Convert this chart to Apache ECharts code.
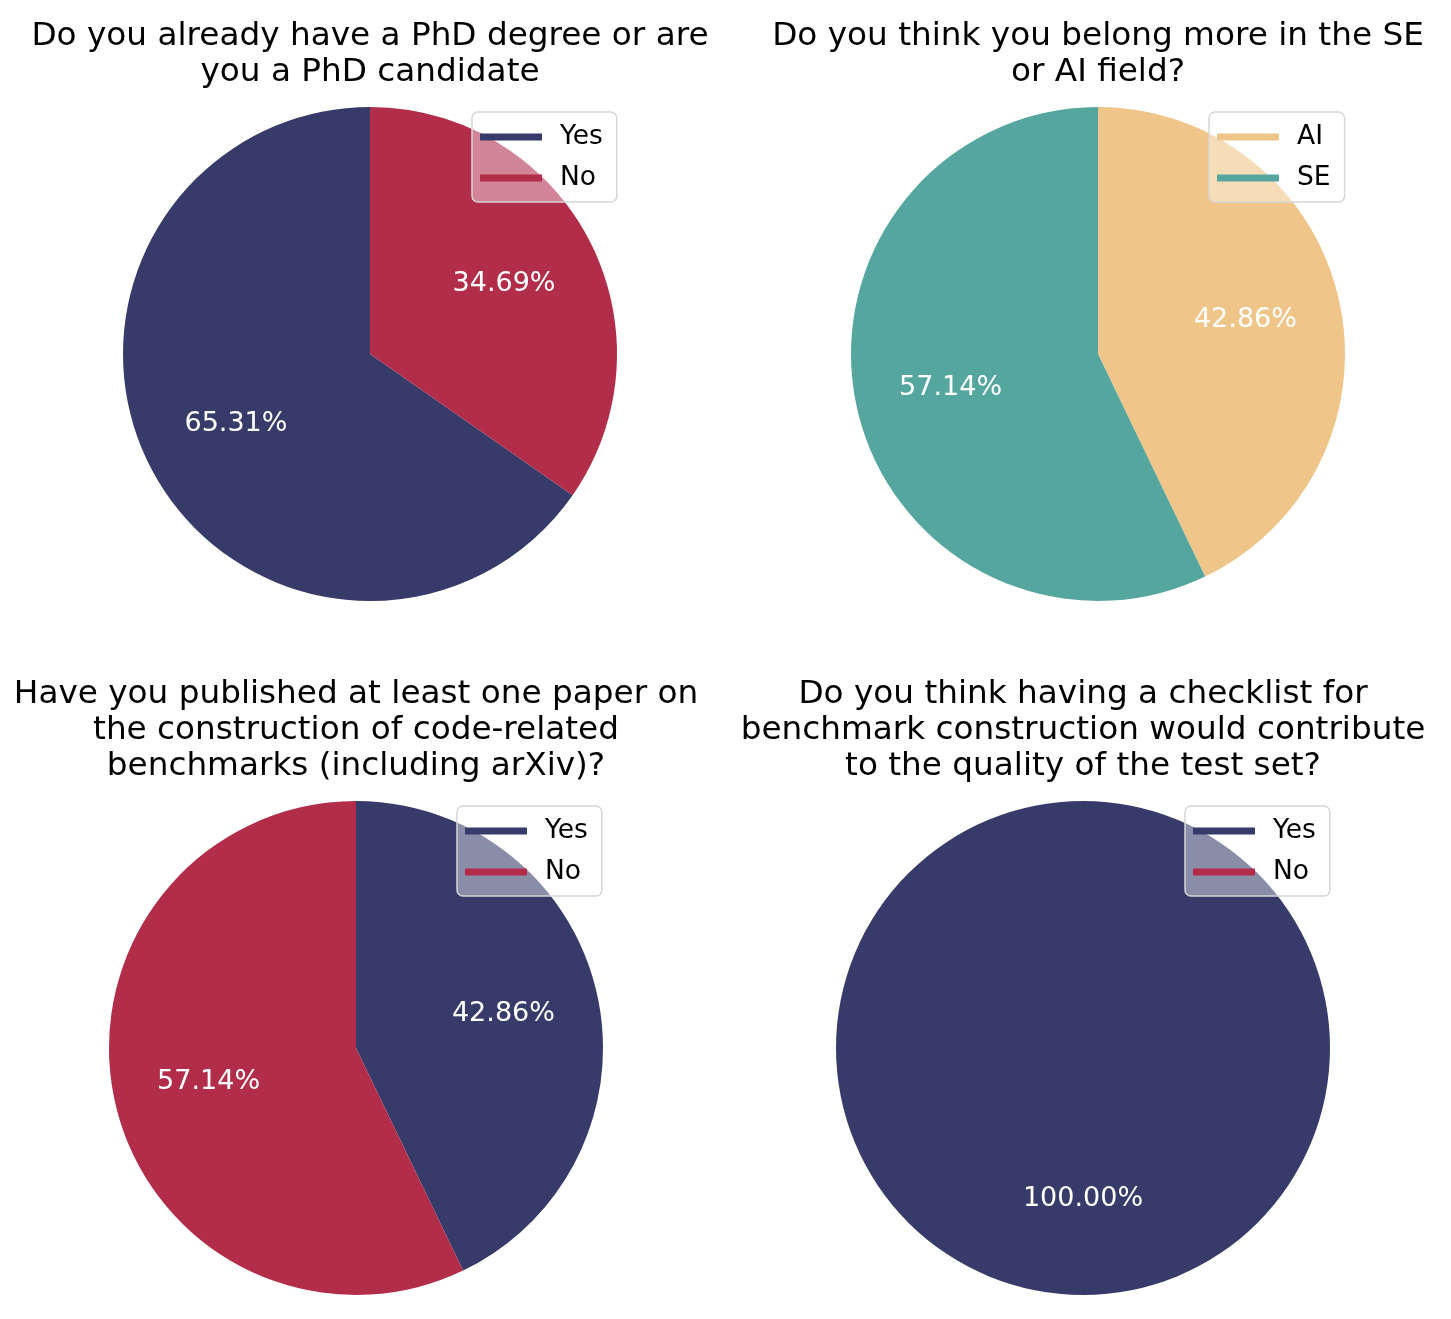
<!DOCTYPE html>
<html>
<head>
<meta charset="utf-8">
<script src="https://cdn.jsdelivr.net/npm/echarts@6/dist/echarts.min.js"></script>
<style>
  html, body { margin: 0; padding: 0; background: #fff; }
  #main { width: 1451px; height: 1319px; }
</style>
</head>
<body>
<div id="main"></div>
<script>
// survey answers, one small array per question
var titles = [
    'Do you already have a PhD degree or are\nyou a PhD candidate',
    'Do you think you belong more in the SE\nor AI field?',
    'Have you published at least one paper on\nthe construction of code-related\nbenchmarks (including arXiv)?',
    'Do you think having a checklist for\nbenchmark construction would contribute\nto the quality of the test set?'
];
var phdLabels = ['Yes', 'No'];
var phdValues = [65.31, 34.69];
var fieldLabels = ['AI', 'SE'];
var fieldValues = [42.86, 57.14];
var paperLabels = ['Yes', 'No'];
var paperValues = [42.86, 57.14];
var checklistLabels = ['Yes', 'No'];
var checklistValues = [100, 0];

var navy = '#363b69', red = '#b22d4a', orange = '#f0c589', teal = '#54a69e';
var font = 'DejaVu Sans';
var R = 247;

var panels = [
    { labels: phdLabels, values: phdValues, colors: [navy, red], center: [370, 354], clockwise: false, title: titles[0], titleTop: 19, legend: [472, 112] },
    { labels: fieldLabels, values: fieldValues, colors: [orange, teal], center: [1098, 354], clockwise: true, title: titles[1], titleTop: 19, legend: [1209, 112] },
    { labels: paperLabels, values: paperValues, colors: [navy, red], center: [356, 1048], clockwise: true, title: titles[2], titleTop: 677, legend: [457, 806] },
    { labels: checklistLabels, values: checklistValues, colors: [navy, red], center: [1083, 1048], clockwise: true, title: titles[3], titleTop: 677, legend: [1185, 806] }
];

var title = [], legend = [], series = [];
panels.forEach(function (p, i) {
    var data = p.labels.map(function (name, k) {
        return { name: name, value: p.values[k], itemStyle: { color: p.colors[k] } };
    });
    title.push({
        text: p.title,
        left: p.center[0],
        top: p.titleTop,
        textAlign: 'center',
        padding: 0,
        textStyle: { fontFamily: font, fontSize: 32.7, fontWeight: 'normal', color: '#000', lineHeight: 36 }
    });
    legend.push({
        data: p.labels,
        orient: 'vertical',
        left: p.legend[0],
        top: p.legend[1],
        icon: 'rect',
        itemWidth: 62,
        itemHeight: 7,
        itemGap: 11,
        padding: [10, 14, 9, 8],
        backgroundColor: 'rgba(255,255,255,0.42)',
        borderColor: '#d6d6d6',
        borderWidth: 1.5,
        borderRadius: 6,
        selectedMode: false,
        seriesIndex: [i * 2],
        textStyle: { fontFamily: font, fontSize: 26.5, color: '#000', lineHeight: 30, padding: [0, 0, 0, 13] }
    });
    // the pie itself
    series.push({
        type: 'pie',
        center: p.center,
        radius: [0, R],
        startAngle: 90,
        clockwise: p.clockwise,
        animation: false,
        silent: true,
        data: data,
        label: { show: false },
        labelLine: { show: false }
    });
    // transparent ring so the percentage labels sit at 0.6 of the radius
    series.push({
        type: 'pie',
        center: p.center,
        radius: [R * 0.2, R],
        startAngle: 90,
        clockwise: p.clockwise,
        animation: false,
        silent: true,
        data: data.map(function (d) { return { name: d.name, value: d.value, itemStyle: { color: 'rgba(0,0,0,0)' } }; }),
        label: {
            show: true,
            position: 'inside',
            color: '#fff',
            fontFamily: font,
            fontSize: 27,
            formatter: function (prm) { return prm.value > 0 ? prm.value.toFixed(2) + '%' : ''; }
        },
        labelLine: { show: false }
    });
});

var myChart = echarts.init(document.getElementById('main'));
myChart.setOption({
    backgroundColor: '#fff',
    title: title,
    legend: legend,
    series: series
});
</script>
</body>
</html>
